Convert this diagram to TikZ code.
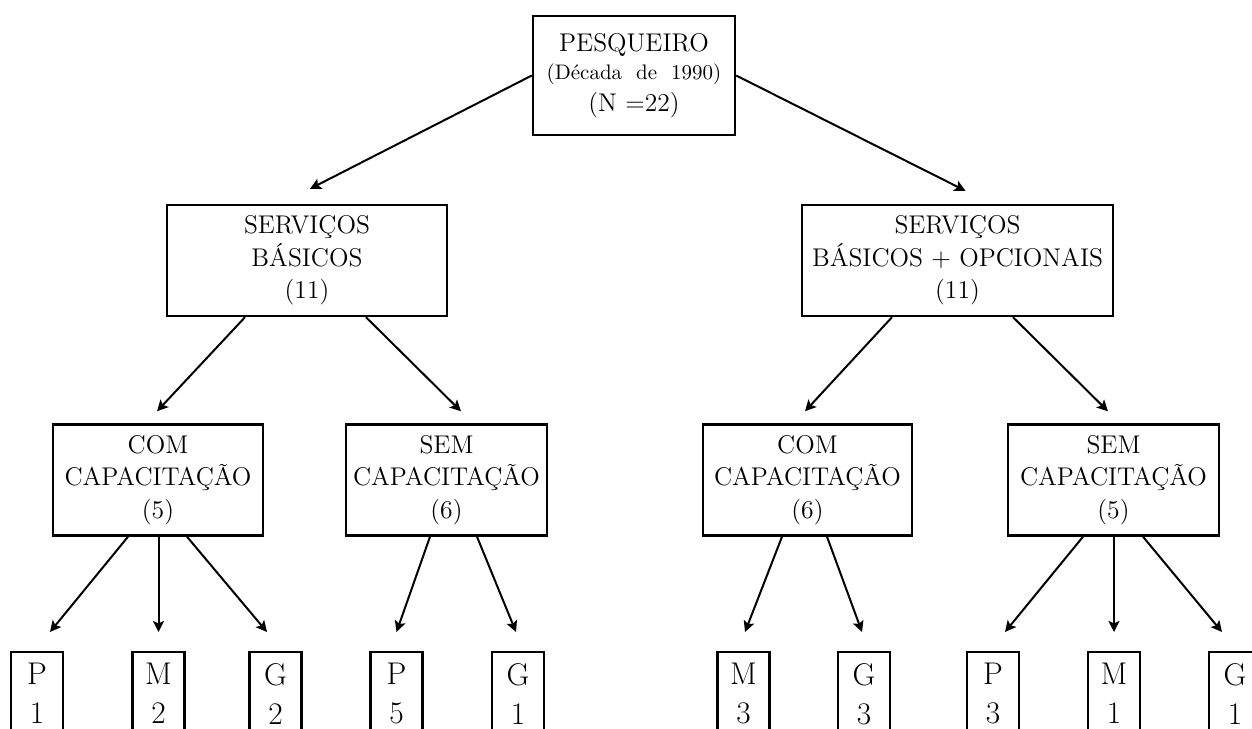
\documentclass[tikz,border=0pt]{standalone}
\usetikzlibrary{arrows.meta,calc}
\tikzstyle{caixa} = [rectangle, text centered, align=center, draw=black, line width=1.2pt, minimum height=55.5pt, inner sep=2pt, font=\fontsize{12.8}{16.25}\selectfont]
\tikzstyle{folha} = [rectangle, text centered, align=center, draw=black, line width=1.2pt, minimum width=26pt, inner xsep=2pt, inner ysep=5.5pt, text depth=14pt, anchor=north, font=\fontsize{15.7}{19.5}\selectfont]
\tikzstyle{seta} = [line width=1pt, -{Stealth[length=5.5pt, width=5.5pt, inset=1.2pt]}]

\begin{document}
\begin{tikzpicture}[x=0.5pt, y=-0.5pt]
    \useasboundingbox (0,0) rectangle (1252,728);
    \clip (0,0) rectangle (1252,728);

    \node (pesqueiro) [caixa, minimum width=101pt, minimum height=59.5pt] at (634,75.5) {PESQUEIRO\\[-2pt]{\fontsize{10.5}{12}\selectfont (D\'ecada~ de~ 1990)}\\[-0.5pt](N =22)};

    \node (basicos) [caixa, minimum width=140pt] at (307,260.5) {SERVI\c{C}OS\\B\'ASICOS\\(11)};
    \node (opcionais) [caixa, minimum width=155.5pt] at (957.5,260.5) {SERVI\c{C}OS\\B\'ASICOS + OPCIONAIS\\(11)};

    \node (com1) [caixa, minimum width=105pt] at (158,480) {COM\\CAPACITA\c{C}\~AO\\(5)};
    \node (sem1) [caixa, minimum width=100.5pt] at (446.5,480) {SEM\\CAPACITA\c{C}\~AO\\(6)};
    \node (com2) [caixa, minimum width=104.5pt] at (807.5,480) {COM\\CAPACITA\c{C}\~AO\\(6)};
    \node (sem2) [caixa, minimum width=105.5pt] at (1113.5,480) {SEM\\CAPACITA\c{C}\~AO\\(5)};

    \node (p1) [folha] at (37,651) {P\\1};
    \node (m2) [folha] at (158.5,651) {M\\2};
    \node (g2) [folha] at (275.5,651) {G\\2};
    \node (p5) [folha] at (396.5,651) {P\\5};
    \node (g1) [folha] at (518,651) {G\\1};
    \node (m3) [folha] at (743.5,651) {M\\3};
    \node (g3) [folha] at (864,651) {G\\3};
    \node (p3) [folha] at (993,651) {P\\3};
    \node (m1) [folha] at (1114,651) {M\\1};
    \node (g4) [folha] at (1235,651) {G\\1};

    \draw [seta] (pesqueiro.west) -- ($(basicos.north)+(3,-15)$);
    \draw [seta] (pesqueiro.east) -- ($(opcionais.north)+(8,-13)$);

    \draw [seta] ($(basicos.south)+(-62,0)$) -- ($(com1.north)+(-1,-12)$);
    \draw [seta] ($(basicos.south)+(59,0)$) -- ($(sem1.north)+(14.5,-12)$);
    \draw [seta] ($(opcionais.south)+(-65.5,0)$) -- ($(com2.north)+(-2.5,-12)$);
    \draw [seta] ($(opcionais.south)+(55.5,0)$) -- ($(sem2.north)+(-5.5,-12)$);

    \draw [seta] ($(com1.south)+(-30,0)$) -- ($(p1.north)+(13,-19)$);
    \draw [seta] (m2.north |- com1.south) -- ($(m2.north)+(0,-19)$);
    \draw [seta] ($(com1.south)+(29,0)$) -- ($(g2.north)+(-8.5,-19)$);
    \draw [seta] ($(sem1.south)+(-16.5,0)$) -- ($(p5.north)+(0,-19)$);
    \draw [seta] ($(sem1.south)+(30.5,0)$) -- ($(g1.north)+(-2,-19)$);
    \draw [seta] ($(com2.south)+(-25.5,0)$) -- ($(m3.north)+(1.5,-19)$);
    \draw [seta] ($(com2.south)+(19.5,0)$) -- ($(g3.north)+(-2,-19)$);
    \draw [seta] ($(sem2.south)+(-30.5,0)$) -- ($(p3.north)+(12,-19)$);
    \draw [seta] (m1.north |- sem2.south) -- ($(m1.north)+(0,-19)$);
    \draw [seta] ($(sem2.south)+(29.5,0)$) -- ($(g4.north)+(-13,-19)$);
\end{tikzpicture}
\end{document}
